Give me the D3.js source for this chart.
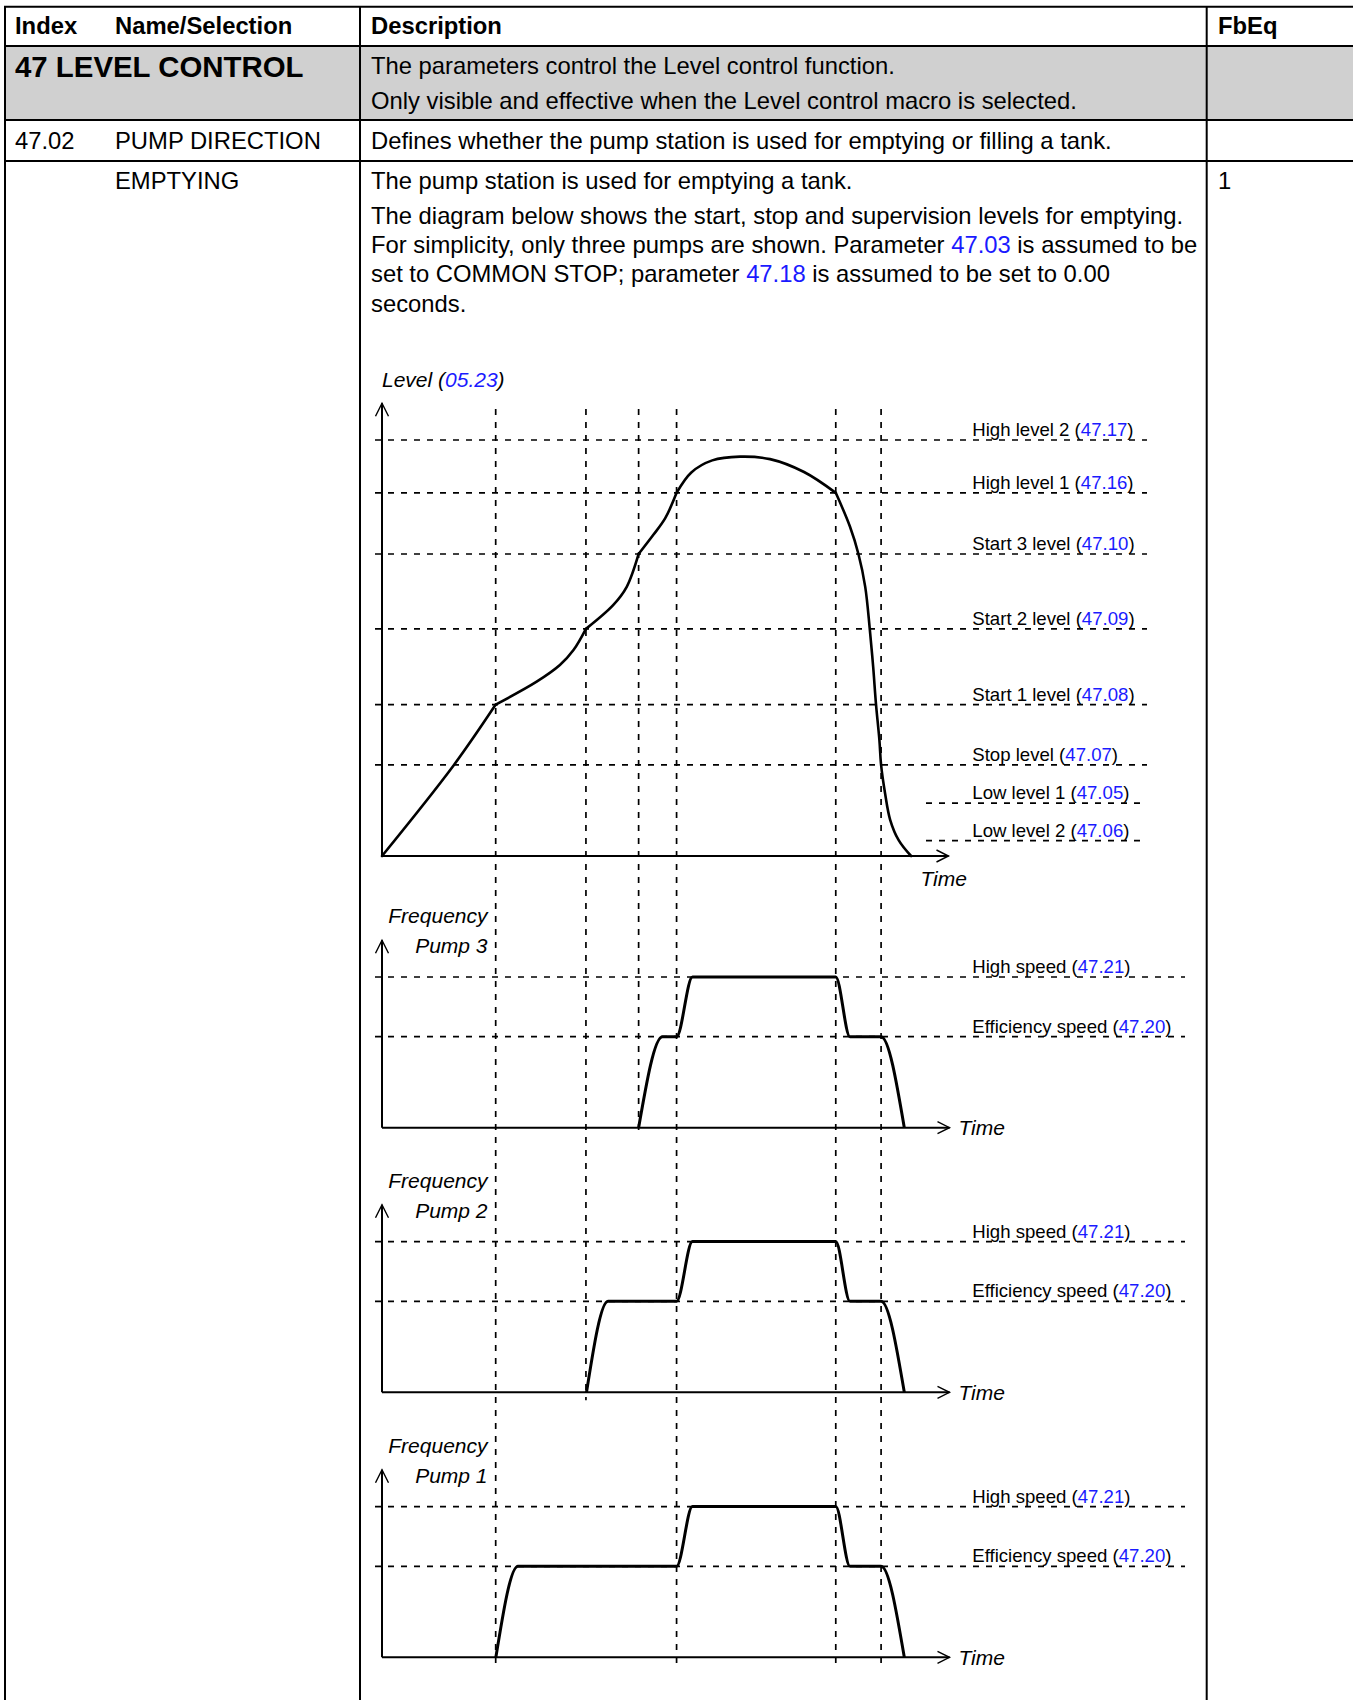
<!DOCTYPE html>
<html><head><meta charset="utf-8">
<script src="https://cdn.jsdelivr.net/npm/d3@7"></script>
<style>
body{margin:0;background:#fff}
svg{display:block;font-family:"Liberation Sans",Arial,sans-serif}
</style>
</head><body>
<svg id="c" width="1353" height="1700"></svg>
<script>
// ---------- DATA ----------
const headerCells = ["Index", "Name/Selection", "Description", "FbEq"];
const groupTitle = "47 LEVEL CONTROL";
const groupDesc = [["The parameters control the Level control function."],
                   ["Only visible and effective when the Level control macro is selected."]];
const paramIndex = "47.02";
const paramName = "PUMP DIRECTION";
const paramDesc = "Defines whether the pump station is used for emptying or filling a tank.";
const selName = "EMPTYING";
const selFbEq = "1";
const selDesc = [
  [["The pump station is used for emptying a tank.", 0]],
  [["The diagram below shows the start, stop and supervision levels for emptying.", 0]],
  [["For simplicity, only three pumps are shown. Parameter ", 0], ["47.03", 1], [" is assumed to be", 0]],
  [["set to COMMON STOP; parameter ", 0], ["47.18", 1], [" is assumed to be set to 0.00", 0]],
  [["seconds.", 0]]
];

// time of events (x axis units, 0..100)
const eventTimes = [20.07, 36.0, 45.3, 52.0, 80.1, 88.1];
const eventLastPanel = [2, 1, 0, 2, 2, 2];   // last pump panel each line passes through

// level thresholds (level units, 0..100)
const levelNames  = ["High level 2", "High level 1", "Start 3 level", "Start 2 level", "Start 1 level", "Stop level", "Low level 1", "Low level 2"];
const levelParams = ["47.17", "47.16", "47.10", "47.09", "47.08", "47.07", "47.05", "47.06"];
const levelValues = [100, 87.3, 72.6, 54.6, 36.4, 21.9, 12.7, 3.7];
const levelShort  = [0, 0, 0, 0, 0, 0, 1, 1];

// level curve, piecewise smooth segments of [time, level]
const levelSeg1 = [[0, 0], [12.6, 21.7], [20.07, 36.4]];
const levelSeg2 = [[20.07, 36.4], [27.3, 41.9], [31.4, 45.9], [33.8, 49.5], [36.0, 54.6]];
const levelSeg3 = [[36.0, 54.6], [40.8, 60.3], [43.2, 64.7], [45.3, 72.6]];
const levelSeg4 = [[45.3, 72.6], [47.9, 77.2], [50.0, 81.2], [52.0, 87.3]];
const levelSeg5 = [[52.0, 87.3], [54.6, 92.2], [58.3, 95.1], [63.2, 96.0], [68.5, 95.4], [74.5, 92.3], [80.1, 87.3]];
const levelSeg6 = [[80.1, 87.3], [82.6, 79.2], [84.1, 72.6], [85.3, 64.7], [86.1, 54.6], [86.7, 45.5], [87.2, 36.5], [87.8, 27.9], [88.1, 21.9], [88.8, 15.1], [89.7, 8.7], [91.2, 3.8], [93.4, 0]];
const levelSegments = [levelSeg1, levelSeg2, levelSeg3, levelSeg4, levelSeg5, levelSeg6];

// pump speeds (frequency units, 0..100)
const speedNames  = ["High speed", "Efficiency speed"];
const speedParams = ["47.21", "47.20"];
const speedValues = [100, 60.4];

const pumpNames = ["Pump 3", "Pump 2", "Pump 1"];
const pump3 = [[45.3, 0], [49.5, 60.4], [52.0, 60.4], [54.8, 100], [80.1, 100], [82.6, 60.4], [88.1, 60.4], [92.2, 0]];
const pump2 = [[36.1, 0], [39.9, 60.4], [52.0, 60.4], [54.8, 100], [80.1, 100], [82.6, 60.4], [88.1, 60.4], [92.2, 0]];
const pump1 = [[20.1, 0], [24.0, 60.4], [52.0, 60.4], [54.8, 100], [80.1, 100], [82.6, 60.4], [88.1, 60.4], [92.2, 0]];
const pumpSeries = [pump3, pump2, pump1];

// ---------- DRAW ----------
const svg = d3.select("#c");
const BLUE = "#1a1aff";
const W = 1353, H = 1700;

// table
const rowY = [6.7, 46, 120, 161];
const colX = [5, 360, 1206.7];
svg.append("rect").attr("x", 5).attr("y", 46).attr("width", W - 5).attr("height", 74).attr("fill", "#d0d0d0");
const tb = svg.append("g").attr("stroke", "#000").attr("stroke-width", 2);
rowY.forEach(y => tb.append("line").attr("x1", 4).attr("x2", W).attr("y1", y).attr("y2", y));
colX.forEach(x => tb.append("line").attr("x1", x).attr("x2", x).attr("y1", rowY[0]).attr("y2", H));

const textX = [15, 115, 371, 1218];
const FS = 23.8;
headerCells.forEach((t, i) => svg.append("text").attr("x", textX[i]).attr("y", 33.5)
  .attr("font-size", FS).attr("font-weight", "bold").text(t));
svg.append("text").attr("x", 15).attr("y", 77).attr("font-size", 29.4).attr("font-weight", "bold").text(groupTitle);
groupDesc.forEach((l, i) => svg.append("text").attr("x", textX[2]).attr("y", 73.8 + i * 35).attr("font-size", FS).text(l[0]));
svg.append("text").attr("x", textX[0]).attr("y", 149).attr("font-size", FS).text(paramIndex);
svg.append("text").attr("x", textX[1]).attr("y", 149).attr("font-size", FS).text(paramName);
svg.append("text").attr("x", textX[2]).attr("y", 149).attr("font-size", FS).text(paramDesc);
svg.append("text").attr("x", textX[1]).attr("y", 189).attr("font-size", FS).text(selName);
svg.append("text").attr("x", textX[3]).attr("y", 189).attr("font-size", FS).text(selFbEq);
const descY = [189, 223.6, 252.9, 282.2, 311.5];
selDesc.forEach((parts, i) => {
  const t = svg.append("text").attr("x", textX[2]).attr("y", descY[i]).attr("font-size", FS).attr("xml:space", "preserve");
  parts.forEach(p => t.append("tspan").attr("fill", p[1] ? BLUE : "#000").text(p[0]));
});

// scales
const x = d3.scaleLinear().domain([0, 100]).range([382, 948.5]);
const yLevel = d3.scaleLinear().domain([0, 100]).range([856, 440]);
const pumpBase = [1127.7, 1392.3, 1657.3];
const yPump = pumpBase.map(b => d3.scaleLinear().domain([0, 100]).range([b, b - 150.7]));

const dash = "6,7";
// vertical event lines
eventTimes.forEach((t, i) => {
  svg.append("line").attr("x1", x(t)).attr("x2", x(t)).attr("y1", 409).attr("y2", pumpBase[eventLastPanel[i]] + 8)
    .attr("stroke", "#000").attr("stroke-width", 1.7).attr("stroke-dasharray", dash);
});

// level thresholds
levelValues.forEach((v, i) => {
  const y = yLevel(v);
  svg.append("line").attr("x1", levelShort[i] ? 926 : 375).attr("x2", 1147).attr("y1", y).attr("y2", y)
    .attr("stroke", "#000").attr("stroke-width", 1.7).attr("stroke-dasharray", dash);
  const t = svg.append("text").attr("x", 972.3).attr("y", y - 4).attr("font-size", 18.6).attr("xml:space", "preserve");
  t.append("tspan").text(levelNames[i] + " (");
  t.append("tspan").attr("fill", BLUE).text(levelParams[i]);
  t.append("tspan").text(")");
});

function axes(y0, yTop, xEnd) {
  const g = svg.append("g").attr("stroke", "#000").attr("stroke-width", 2).attr("fill", "none");
  g.append("line").attr("x1", 382).attr("x2", 382).attr("y1", y0).attr("y2", yTop);
  g.append("line").attr("x1", 382).attr("x2", xEnd).attr("y1", y0).attr("y2", y0);
  g.append("path").attr("stroke-width", 1.4).attr("d", `M${382 - 6.5},${yTop + 13}L382,${yTop}L${382 + 6.5},${yTop + 13}`);
  g.append("path").attr("stroke-width", 1.4).attr("d", `M${xEnd - 12},${y0 - 6}L${xEnd},${y0}L${xEnd - 12},${y0 + 6}`);
}
// level axes
axes(yLevel(0), 403.3, x(100));
const lvl = svg.append("text").attr("x", 382).attr("y", 387).attr("font-size", 21).attr("font-style", "italic").attr("xml:space", "preserve");
lvl.append("tspan").text("Level (");
lvl.append("tspan").attr("fill", BLUE).text("05.23");
lvl.append("tspan").text(")");
svg.append("text").attr("x", 920.4).attr("y", 885.5).attr("font-size", 21).attr("font-style", "italic").text("Time");

// level curve
const lineLevel = d3.line().x(d => x(d[0])).y(d => yLevel(d[1])).curve(d3.curveCatmullRom.alpha(0.5));
levelSegments.forEach(s => svg.append("path").attr("d", lineLevel(s)).attr("fill", "none")
  .attr("stroke", "#000").attr("stroke-width", 2.6).attr("stroke-linecap", "round"));

// pump panels
pumpSeries.forEach((data, p) => {
  const yp = yPump[p];
  const base = pumpBase[p];
  speedValues.forEach((v, i) => {
    const y = yp(v);
    svg.append("line").attr("x1", 375).attr("x2", 1185).attr("y1", y).attr("y2", y)
      .attr("stroke", "#000").attr("stroke-width", 1.7).attr("stroke-dasharray", dash);
    const t = svg.append("text").attr("x", 972.3).attr("y", y - 4).attr("font-size", 18.6).attr("xml:space", "preserve");
    t.append("tspan").text(speedNames[i] + " (");
    t.append("tspan").attr("fill", BLUE).text(speedParams[i]);
    t.append("tspan").text(")");
  });
  axes(base, base - 187.5, x(100) + 1);
  svg.append("text").attr("x", 487.5).attr("y", base - 204.4).attr("text-anchor", "end").attr("font-size", 21).attr("font-style", "italic").text("Frequency");
  svg.append("text").attr("x", 487.5).attr("y", base - 174.4).attr("text-anchor", "end").attr("font-size", 21).attr("font-style", "italic").text(pumpNames[p]);
  svg.append("text").attr("x", 958.4).attr("y", base + 7.5).attr("font-size", 21).attr("font-style", "italic").text("Time");
  const ln = d3.line().x(d => x(d[0])).y(d => yp(d[1])).curve(d3.curveMonotoneX);
  svg.append("path").attr("d", ln(data)).attr("fill", "none").attr("stroke", "#000").attr("stroke-width", 3);
});
</script>
</body></html>
